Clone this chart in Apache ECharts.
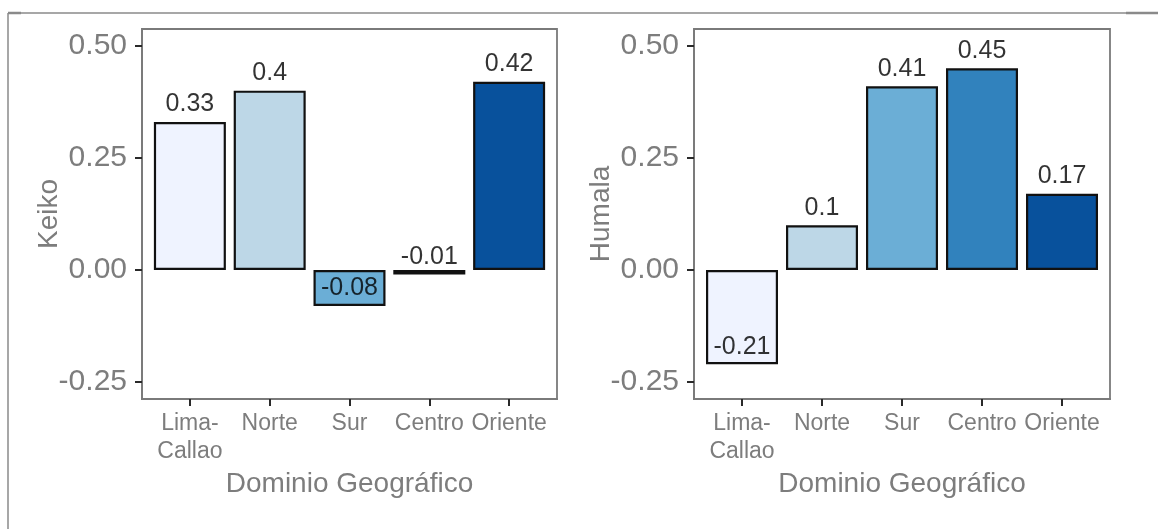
<!DOCTYPE html>
<html>
<head>
<meta charset="utf-8">
<script src="https://cdn.jsdelivr.net/npm/echarts@6/dist/echarts.min.js"></script>
<style>
  html, body { margin: 0; padding: 0; background: #fff; }
  #chart { width: 1158px; height: 529px; }
</style>
</head>
<body>
<div id="chart"></div>
<script>
// datos
var categorias = ["Lima-\nCallao", "Norte", "Sur", "Centro", "Oriente"];
var keiko = [0.33, 0.4, -0.08, -0.01, 0.42];
var humala = [-0.21, 0.1, 0.41, 0.45, 0.17];
var yTicks = [-0.25, 0, 0.25, 0.5];
var colores = ["#EFF3FF", "#BDD7E7", "#6BAED6", "#3182BD", "#08519C"];

var fuente = "'Liberation Sans', Arial, sans-serif";
var gris = "#7d7d7d";
var borde = "#7a7a7a";

// posicion de cada categoria en el eje (1..5)
function puntos(vals) {
  return vals.map(function (v, i) { return [i + 1, v]; });
}

function ejeX(idx) {
  return {
    type: "value",
    gridIndex: idx,
    min: 0.4,
    max: 5.6,
    name: "Dominio Geográfico",
    nameLocation: "middle",
    nameGap: 71,
    nameMoveOverlap: false,
    nameTextStyle: { color: gris, fontSize: 28, fontFamily: fuente },
    axisLine: { show: true, onZero: false, lineStyle: { color: borde, width: 1.8 } },
    splitLine: { show: false },
    axisTick: {
      show: true,
      customValues: [1, 2, 3, 4, 5],
      length: 7,
      lineStyle: { color: "#2a2a2a", width: 2 }
    },
    axisLabel: {
      customValues: [1, 2, 3, 4, 5],
      color: gris,
      fontSize: 23,
      fontFamily: fuente,
      lineHeight: 28,
      margin: 11,
      formatter: function (v) { return categorias[Math.round(v) - 1] || ""; }
    }
  };
}

function ejeY(idx, nombre) {
  return {
    type: "value",
    gridIndex: idx,
    min: -0.2875,
    max: 0.5375,
    name: nombre,
    nameLocation: "middle",
    nameGap: 79,
    nameMoveOverlap: false,
    nameRotate: 90,
    nameTextStyle: { color: gris, fontSize: 28, fontFamily: fuente },
    axisLine: { show: true, onZero: false, lineStyle: { color: borde, width: 1.8 } },
    splitLine: { show: false },
    axisTick: {
      show: true,
      customValues: yTicks,
      length: 7,
      lineStyle: { color: "#2a2a2a", width: 2 }
    },
    axisLabel: {
      customValues: yTicks,
      color: gris,
      fontSize: 30,
      fontFamily: fuente,
      margin: 15,
      formatter: function (v) { return v.toFixed(2); }
    }
  };
}

function barras(idx, vals) {
  return {
    type: "bar",
    xAxisIndex: idx,
    yAxisIndex: idx,
    data: puntos(vals),
    barWidth: 72,
    itemStyle: {
      borderColor: "#111",
      borderWidth: 2.2,
      color: function (p) { return colores[p.dataIndex]; }
    },
    z: 2
  };
}

// etiquetas de valor, ancladas en el extremo de cada barra
function etiquetas(idx, vals) {
  return {
    type: "scatter",
    xAxisIndex: idx,
    yAxisIndex: idx,
    data: puntos(vals),
    symbolSize: 0,
    silent: true,
    z: 5,
    label: {
      show: true,
      position: "top",
      distance: 5,
      color: "#000",
      fontSize: 25,
      fontFamily: fuente,
      formatter: function (p) { return String(p.value[1]); }
    }
  };
}

var option = {
  animation: false,
  backgroundColor: "#fff",
  grid: [
    { left: 142, top: 29, width: 415, height: 370, show: true, borderColor: borde, borderWidth: 1.8 },
    { left: 694, top: 29, width: 416, height: 370, show: true, borderColor: borde, borderWidth: 1.8 }
  ],
  xAxis: [ejeX(0), ejeX(1)],
  yAxis: [ejeY(0, "Keiko"), ejeY(1, "Humala")],
  series: [
    barras(0, keiko),
    etiquetas(0, keiko),
    barras(1, humala),
    etiquetas(1, humala)
  ],
  // marco exterior de la imagen
  graphic: [
    { type: "line", shape: { x1: 8, y1: 13, x2: 1126, y2: 13 }, style: { stroke: "#8a8a8a", lineWidth: 1.5 } },
    { type: "line", shape: { x1: 1126, y1: 13, x2: 1158, y2: 13 }, style: { stroke: "#8a8a8a", lineWidth: 2.5 } },
    { type: "line", shape: { x1: 8, y1: 13, x2: 21, y2: 13 }, style: { stroke: "#8a8a8a", lineWidth: 2.5 } },
    { type: "line", shape: { x1: 8, y1: 13, x2: 8, y2: 529 }, style: { stroke: "#8a8a8a", lineWidth: 1.5 } }
  ]
};

var chart = echarts.init(document.getElementById("chart"));
chart.setOption(option);
</script>
</body>
</html>
